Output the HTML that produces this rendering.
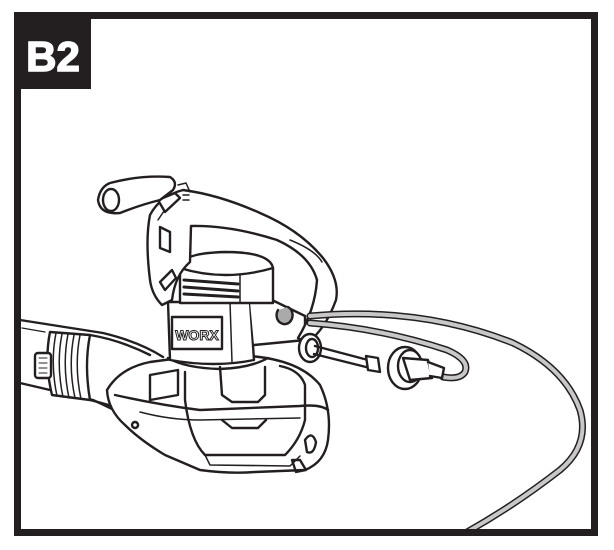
<!DOCTYPE html>
<html><head><meta charset="utf-8"><style>
html,body{margin:0;padding:0;background:#fff;}
svg{display:block;}
</style></head><body>
<svg width="614" height="550" viewBox="0 0 614 550" xmlns="http://www.w3.org/2000/svg">
<rect x="0" y="0" width="614" height="550" fill="#fff"/>
<g fill="none" stroke="#231f20" stroke-width="2.4" stroke-linejoin="round" stroke-linecap="round">
<!-- tube -->
<path d="M20 320 L103 333 Q140 342 163 357" />
<path d="M20 383 L93 400 Q120 412 137 423" />
<path d="M22 328 L45 332" stroke-width="1.2"/>
<!-- collar -->
<path d="M50 332 Q44 362 52 395 L90 400 Q84 365 90 335 Z" fill="#fff"/>
<path d="M56 333 Q50 363 57 396 M62 334 Q56 364 63 397 M68 334 Q62 365 69 398 M74 335 Q68 366 75 398 M80 335 Q74 366 81 399" stroke-width="1.5"/>
<path d="M90 335 Q120 340 150 355 M90 400 Q110 405 125 410" />
<rect x="35" y="353" width="16" height="25" rx="3" fill="#fff"/>
<path d="M39 358 h8 M39 363 h8 M39 368 h8 M39 373 h8" stroke-width="1"/>
<!-- lower housing -->
<path d="M107 390 Q120 368 150 362 L180 358 L250 356 Q300 360 320 385 Q332 410 328 440 Q325 462 305 470 L255 472 Q230 474 200 470 L165 455 Q140 440 125 425 Q108 410 107 390 Z" fill="#fff"/>
<path d="M115 395 Q160 405 200 410 L300 406 Q320 404 328 410" />
<path d="M140 412 Q170 420 200 420 L300 418" stroke-width="1.5"/>
<path d="M150 375 L178 370 L178 395 L150 400 Z" fill="#fff"/>
<path d="M185 372 L185 400 Q190 440 205 455 L285 455 Q300 440 305 420 L305 385 Q300 370 280 366" />
<path d="M220 367 L222 395 L232 402 L258 402 L265 395 L265 367" />
<path d="M222 420 L232 428 L258 428 L266 420" />
<path d="M205 455 L210 465 L290 466 L300 456" stroke-width="1.5"/>
<path d="M305 440 Q312 430 316 442 Q314 455 307 452 Z" />
<path d="M292 460 L300 460 L306 470 L296 472 Z" />
<path d="M135 422 a3 3 0 1 0 0.1 0" />
<!-- neck under body -->
<path d="M168 358 Q185 368 220 369 Q250 368 268 358" />
<!-- body box -->
<path d="M168 302 L250 302 L254 360 Q215 368 170 360 Z" fill="#fff"/>
<path d="M230 302 L232 362" stroke-width="1.5"/>
<path d="M250 302 L272 300 L305 316 L305 340 L285 342 L254 345" fill="#fff"/>
<rect x="172" y="317" width="50" height="32" fill="#fff"/>
<!-- motor cap -->
<path d="M180 268 Q180 253 225 252 Q270 252 273 268 L273 303 L180 303 Z" fill="#fff"/>
<path d="M180 268 Q225 282 273 268" />
<path d="M240 275 L240 302" stroke-width="1.5"/>
<path d="M184 280 L238 284 M184 287 L238 291 M184 294 L238 297" stroke-width="3"/>
<!-- handle -->
<path d="M150 280 Q145 240 150 215 Q160 196 183 190 Q220 195 260 213 Q300 230 323 258 Q340 280 336 300 Q325 330 307 343 L298 338 Q315 310 317 280 Q310 255 277 240 Q230 225 191 226 L190 262 Q175 275 172 300 L162 305 Q152 295 150 280 Z" fill="#fff"/>
<path d="M158 220 L168 205" stroke-width="1.5"/>
<path d="M160 227 L170 232 L170 252 L160 248 Z" fill="#fff"/>
<path d="M160 282 L172 270 L176 278 L165 290 Z" fill="#fff"/>
<path d="M158 200 L175 193 L180 198 L165 212 Z" fill="#fff"/>
<path d="M290 240 Q315 250 322 262" stroke-width="1.5"/>
<!-- grip -->
<path d="M110 183 Q140 175 170 177 Q178 182 173 190 L160 200 Q140 205 120 213 Q100 215 98 200 Q100 187 110 183 Z" fill="#fff"/>
<ellipse cx="111" cy="200" rx="8" ry="11" fill="#fff"/>
<path d="M178 185 L186 183 L190 192 M183 195 h6 M183 200 h6" stroke-width="1.5"/>
<!-- cord grommet -->
<path d="M278 310 a8 9 0 1 0 10 -3" fill="#aaa"/>
<!-- outer cord -->
<path d="M310 316 Q420 306 513 343 Q565 368 580 410 Q590 445 560 470 Q515 505 467 532" stroke="#231f20" stroke-width="7"/>
<path d="M310 316 Q420 306 513 343 Q565 368 580 410 Q590 445 560 470 Q515 505 467 532" stroke="#c8c8c8" stroke-width="4"/>
<!-- inner cord -->
<path d="M310 323 Q380 328 447 350 Q470 360 465 372 Q460 380 443 377" stroke="#231f20" stroke-width="7"/>
<path d="M310 323 Q380 328 447 350 Q470 360 465 372 Q460 380 443 377" stroke="#c8c8c8" stroke-width="4"/>
<!-- ring and rod -->
<ellipse cx="310" cy="348" rx="11" ry="14" fill="#fff"/>
<ellipse cx="312" cy="348" rx="6" ry="9" fill="#fff"/>
<path d="M315 346 L368 360 M314 354 L366 367" />
<path d="M366 356 L378 358 L380 372 L368 370 Z" fill="#fff"/>
<!-- plug -->
<ellipse cx="405" cy="368" rx="17" ry="21" fill="#fff"/>
<ellipse cx="410" cy="366" rx="12" ry="16" fill="#fff"/>
<path d="M403 358 L428 360 L432 378 L410 380 Z" fill="#fff"/>
<path d="M428 362 L444 368 L442 378 L430 376" fill="#fff"/>
</g>
<!-- WORX text -->
<text x="197" y="340" text-anchor="middle" font-family="Liberation Sans, sans-serif" font-weight="bold" font-size="14" fill="#fff" stroke="#231f20" stroke-width="1">WORX</text>
<!-- frame -->
<rect x="17.5" y="15.5" width="577" height="517" fill="none" stroke="#231f20" stroke-width="7"/>
<rect x="14" y="12" width="77" height="77" fill="#231f20"/>
<text x="53" y="71" text-anchor="middle" font-family="Liberation Sans, sans-serif" font-weight="900" font-size="42" fill="#fff" stroke="#fff" stroke-width="1.5">B2</text>
</svg>
</body></html>
